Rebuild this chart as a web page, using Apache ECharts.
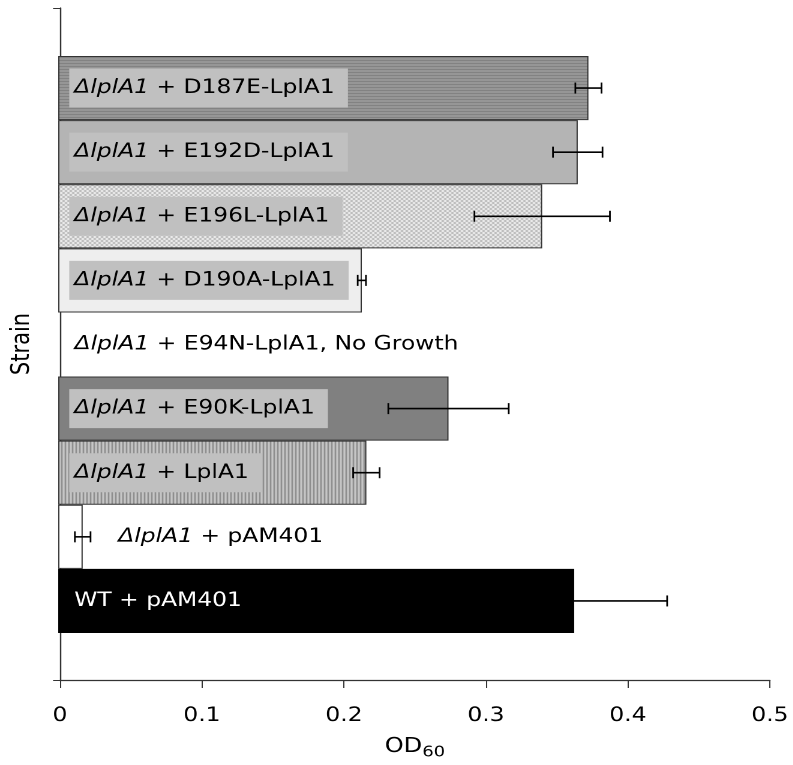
<!DOCTYPE html>
<html>
<head>
<meta charset="utf-8">
<script src="https://cdn.jsdelivr.net/npm/echarts@6/dist/echarts.min.js"></script>
<style>
html,body{margin:0;padding:0;overflow:hidden;background:#fff;}
#c{height:765px;transform-origin:0 0;}
</style>
</head>
<body>
<div id="c"></div>
<script>
// ---- data ----
const categories = ['ΔlplA1 + D187E-LplA1', 'ΔlplA1 + E192D-LplA1', 'ΔlplA1 + E196L-LplA1', 'ΔlplA1 + D190A-LplA1', 'ΔlplA1 + E94N-LplA1', 'ΔlplA1 + E90K-LplA1', 'ΔlplA1 + LplA1', 'ΔlplA1 + pAM401', 'WT + pAM401'];
const od600 = [0.3725, 0.365, 0.340, 0.2133, 0, 0.2742, 0.2165, 0.0172, 0.3625];
const odErr = [0.0092, 0.0174, 0.0476, 0.0029, null, 0.0423, 0.0093, 0.0055, 0.0653];
const labelNotes = ['', '', '', '', ', No Growth', '', '', '', ''];
const xTickLabels = ['0', '0.1', '0.2', '0.3', '0.4', '0.5'];
const yAxisTitle = 'Strain';
const xAxisTitle = 'OD';
const xAxisTitleSub = '60';

// ---- layout / style ----
const SX = 1.2;               // horizontal stretch of the wide original font
const W0 = 793 / SX;
const el = document.getElementById('c');
el.style.width = W0 + 'px';
el.style.transform = 'scaleX(' + SX + ')';
const FONT = 'DejaVu Sans';
const FS = 19.5;

function pattern(w, h, draw) {
  const cv = document.createElement('canvas');
  cv.width = w; cv.height = h;
  const ctx = cv.getContext('2d');
  draw(ctx);
  return { image: cv, repeat: 'repeat' };
}
const hStripes = pattern(4, 3, c => { c.fillStyle = '#9a9a9a'; c.fillRect(0, 0, 4, 3); c.fillStyle = '#7a7a7a'; c.fillRect(0, 0, 4, 1); });
const checker = pattern(4, 4, c => { c.fillStyle = '#f2f2f2'; c.fillRect(0, 0, 4, 4); c.fillStyle = '#b6b6b6'; c.fillRect(0, 0, 2, 2); c.fillRect(2, 2, 2, 2); });
const vStripes = pattern(3, 4, c => { c.fillStyle = '#c6c6c6'; c.fillRect(0, 0, 3, 4); c.fillStyle = '#7c7c7c'; c.fillRect(0, 0, 1, 4); });

const fills = [hStripes, '#b4b4b4', checker, '#eeeeee', '#ffffff', '#808080', vStripes, '#ffffff', '#000000'];
const labelKinds = ['box', 'box', 'box', 'box', 'plain', 'box', 'box', 'far', 'white'];

const richBase = {
  i: { fontStyle: 'italic', fontFamily: FONT, fontSize: FS, color: '#000', lineHeight: 20 },
  n: { fontFamily: FONT, fontSize: FS, color: '#000', lineHeight: 20 }
};
function labelText(name, idx) {
  const full = name + labelNotes[idx];
  if (full.indexOf('ΔlplA1') === 0) return '{i|ΔlplA1}{n|' + full.slice(6) + '}';
  return full;
}
function labelFor(idx) {
  const k = labelKinds[idx];
  const base = { show: true, position: 'insideLeft', fontFamily: FONT, fontSize: FS, lineHeight: 20, color: '#000', rich: richBase,
    formatter: p => labelText(p.name, p.dataIndex) };
  if (k === 'box') Object.assign(base, { distance: 9.2, backgroundColor: '#c0c0c0', padding: [9.5, 11, 9.5, 4.2] });
  if (k === 'plain') Object.assign(base, { distance: 13.6 });
  if (k === 'far') Object.assign(base, { distance: 50 });
  if (k === 'white') Object.assign(base, { distance: 13.4, color: '#fff' });
  return base;
}

const barData = od600.map((v, i) => ({
  value: v,
  itemStyle: { color: fills[i], borderColor: i === 8 ? '#000' : '#333', borderWidth: (i === 4) ? 0 : 1 },
  label: labelFor(i)
}));
const errData = od600.map((v, i) => odErr[i] == null ? null : [v, i, odErr[i]]).filter(d => d);

const GL = 58.2 / SX, GR = 23.3 / SX;
const chart = echarts.init(el, null, { renderer: 'canvas', devicePixelRatio: 2 });
chart.setOption({
  animation: false,
  grid: [
    { left: GL, right: GR, top: 8, bottom: 765 - 681 },
    { left: GL, right: GR, top: 56, bottom: 765 - 633 }
  ],
  xAxis: [
    { gridIndex: 0, type: 'value', min: 0, max: 0.5, interval: 0.1,
      axisLine: { show: true, lineStyle: { color: '#333', width: 1.2 } },
      axisTick: { show: true, inside: false, length: 8, lineStyle: { color: '#333', width: 1 } },
      axisLabel: { margin: 26, fontFamily: FONT, fontSize: FS, color: '#000',
        formatter: (v) => xTickLabels[Math.round(v * 10)] },
      splitLine: { show: false },
      name: '{m|' + xAxisTitle + '}{s|' + xAxisTitleSub + '}', nameLocation: 'middle', nameGap: 54,
      nameTextStyle: { rich: {
        m: { fontFamily: FONT, fontSize: 20, color: '#000', lineHeight: 26, verticalAlign: 'middle' },
        s: { fontFamily: FONT, fontSize: 15, color: '#000', lineHeight: 26, verticalAlign: 'bottom' } } } },
    { gridIndex: 1, type: 'value', min: 0, max: 0.5, show: false }
  ],
  yAxis: [
    { gridIndex: 0, type: 'value', min: 0, max: 1, interval: 1,
      axisLine: { show: true, lineStyle: { color: '#333', width: 1.2 } },
      axisTick: { show: true, inside: false, length: 5.8, lineStyle: { color: '#333', width: 1 } },
      axisLabel: { show: false }, splitLine: { show: false },
      name: yAxisTitle, nameLocation: 'middle', nameRotate: 90, nameGap: 21,
      nameTextStyle: { fontFamily: FONT, fontSize: 21, color: '#000' } },
    { gridIndex: 1, type: 'category', data: categories, inverse: true, show: false, boundaryGap: true }
  ],
  series: [
    { type: 'bar', xAxisIndex: 1, yAxisIndex: 1, data: barData, barCategoryGap: '0%', barWidth: '100%' },
    { type: 'custom', xAxisIndex: 1, yAxisIndex: 1, data: errData, encode: { x: 0, y: 1 }, z: 5,
      renderItem: function (params, api) {
        const v = api.value(0), c = api.value(1), e = api.value(2);
        const a = api.coord([v - e, c]), b = api.coord([v + e, c]);
        const h = 5.5;
        const st = { stroke: '#000', lineWidth: 1.6 };
        const stc = { stroke: '#000', lineWidth: 1.4 };
        return { type: 'group', children: [
          { type: 'line', shape: { x1: a[0], y1: a[1], x2: b[0], y2: b[1] }, style: st },
          { type: 'line', shape: { x1: a[0], y1: a[1] - h, x2: a[0], y2: a[1] + h }, style: stc },
          { type: 'line', shape: { x1: b[0], y1: b[1] - h, x2: b[0], y2: b[1] + h }, style: stc }
        ] };
      } }
  ]
});
</script>
</body>
</html>
